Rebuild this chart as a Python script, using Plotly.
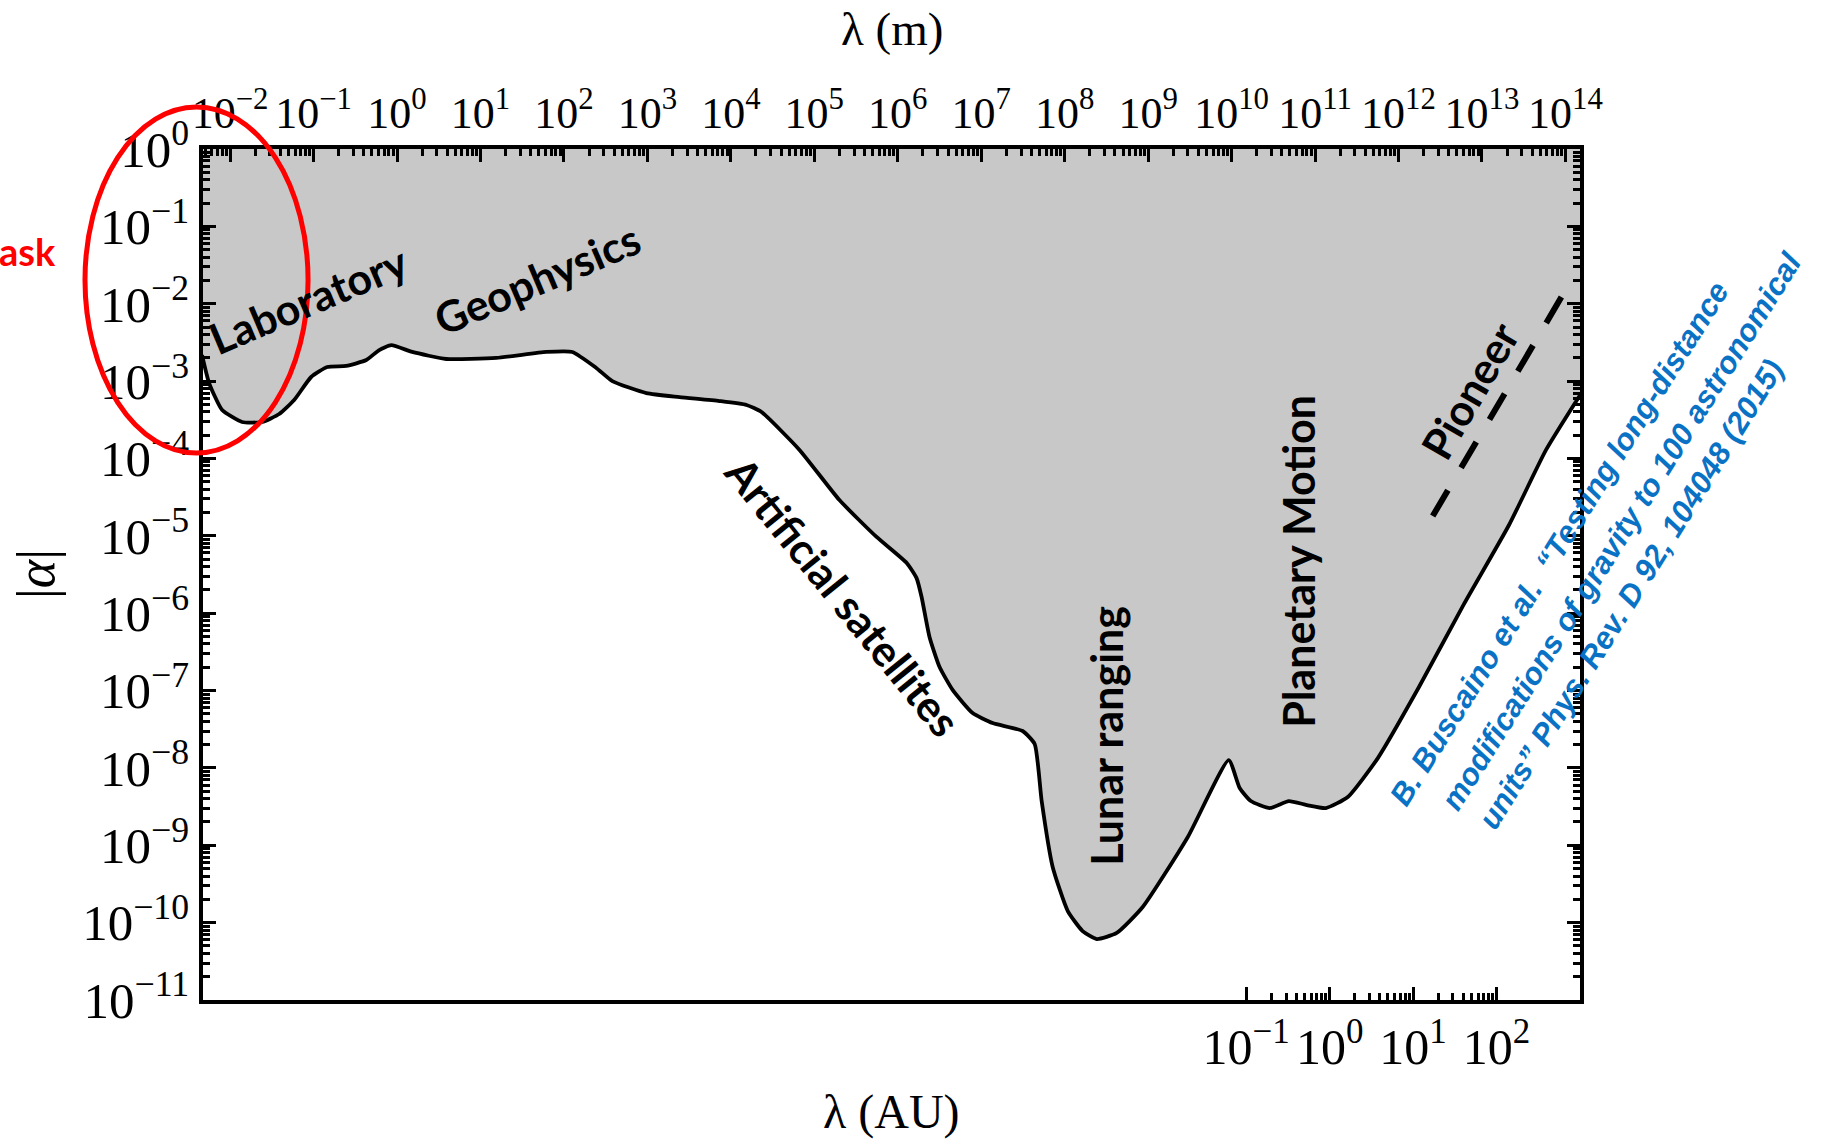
import numpy as np
import plotly.graph_objects as go

# 1 astronomical unit in metres; the bottom axis is the same scale expressed in AU
AU_M = 1.495978707e11
AU_DEC = np.log10(AU_M)

# Upper boundary of the excluded region |alpha|(lambda); lambda in metres
lambda_m = [
    4.61e-3, 5.60e-3, 8.02e-3, 1.39e-2, 2.42e-2, 3.87e-2, 5.85e-2, 9.35e-2,
    0.146, 0.246, 0.428, 0.612, 0.853, 1.52, 3.89, 15.5, 61.5, 126, 244, 380,
    973, 2.42e3, 7.29e3, 1.54e4, 2.33e4, 6.65e4, 2.00e5, 5.57e5, 1.28e6,
    1.68e6, 1.93e6, 2.40e6, 3.17e6, 4.54e6, 7.89e6, 1.37e7, 3.13e7, 4.37e7,
    5.30e7, 7.18e7, 1.09e8, 1.64e8, 2.42e8, 4.21e8, 8.61e8, 2.99e9, 9.25e9,
    1.25e10, 1.70e10, 2.87e10, 4.85e10, 7.98e10, 1.35e11, 2.47e11, 5.66e11,
    1.76e12, 6.08e12, 2.11e13, 5.86e13, 1.50e14,
]
alpha_limit = [
    2.17e-3, 9.44e-4, 4.23e-4, 2.96e-4, 2.96e-4, 3.75e-4, 5.69e-4, 1.13e-3,
    1.52e-3, 1.57e-3, 1.87e-3, 2.52e-3, 2.92e-3, 2.38e-3, 1.93e-3, 1.99e-3,
    2.38e-3, 2.38e-3, 1.48e-3, 1.00e-3, 7.01e-4, 6.22e-4, 5.52e-4, 4.91e-4,
    3.98e-4, 1.29e-4, 2.90e-5, 9.66e-6, 4.45e-6, 2.84e-6, 1.62e-6, 4.92e-7,
    2.01e-7, 1.02e-7, 5.12e-8, 3.80e-8, 3.00e-8, 2.04e-8, 3.73e-9, 5.24e-10,
    1.41e-10, 7.78e-11, 6.14e-11, 7.35e-11, 1.59e-10, 1.28e-9, 1.26e-8,
    5.50e-9, 3.73e-9, 3.03e-9, 3.73e-9, 3.31e-9, 3.03e-9, 4.21e-9, 1.34e-8,
    1.11e-7, 1.31e-6, 1.38e-5, 1.29e-4, 6.61e-4,
]
alpha_top = [1.0] * len(lambda_m)
lambda_au = [v / AU_M for v in lambda_m]

# Pioneer anomaly band (dashed)
pioneer_lambda_m = [2.57e12, 9.12e13]
pioneer_alpha = [1.80e-5, 1.26e-2]

# Tick decades
top_exponents = list(range(-2, 15))
au_exponents = [-1, 0, 1, 2]
alpha_exponents = list(range(0, -12, -1))

# Region labels: text, lambda (m), |alpha|, angle
region_labels = [
    ("Laboratory", 8.61e-2, 1.15e-2, -23),
    ("Geophysics", 48.0, 2.09e-2, -23),
    ("Artificial satellites", 2.18e5, 1.67e-6, 51),
    ("Lunar ranging", 3.10e8, 2.58e-8, -90),
    ("Planetary Motion", 6.22e10, 4.72e-6, -90),
    ("Pioneer", 7.18e12, 7.45e-4, -60),
]

citation_lines = [
    "B. Buscaino et al.  \u201cTesting long-distance",
    "modifications of gravity to 100 astronomical",
    "units\u201d Phys. Rev. D 92, 104048 (2015)",
]
# centre of each citation line, in paper fractions
citation_pos = [(0.9850, 0.5366), (1.0298, 0.5511), (1.0370, 0.4764)]


def pow10(k):
    exp = ("\u2212" + str(-k)) if k < 0 else str(k)
    return "10<sup>" + exp + "</sup>"


def minor_vals(k_lo, k_hi):
    return [m * 10.0 ** k for k in range(k_lo, k_hi) for m in range(2, 10)]


X_RANGE_AU = [-13.5, 3.0]
X_RANGE_M = [X_RANGE_AU[0] + AU_DEC, X_RANGE_AU[1] + AU_DEC]

SERIF = "Liberation Serif"
SANS = "Lato"

fig = go.Figure()

# Invisible copy on the AU axis so that the bottom axis is drawn
fig.add_trace(go.Scatter(
    x=lambda_au, y=alpha_limit, xaxis="x", yaxis="y", mode="lines",
    line=dict(width=0, color="rgba(0,0,0,0)"), hoverinfo="skip",
))
# Top edge of the shaded region, then the boundary filled up to it
fig.add_trace(go.Scatter(
    x=lambda_m, y=alpha_top, xaxis="x2", yaxis="y", mode="lines",
    line=dict(width=0, color="rgba(0,0,0,0)"), hoverinfo="skip",
))
fig.add_trace(go.Scatter(
    x=lambda_m, y=alpha_limit, xaxis="x2", yaxis="y", mode="lines",
    fill="tonexty", fillcolor="#c8c8c8",
    line=dict(color="black", width=3.8, shape="spline", smoothing=0.5),
    hoverinfo="skip",
))
fig.add_trace(go.Scatter(
    x=pioneer_lambda_m, y=pioneer_alpha, xaxis="x2", yaxis="y", mode="lines",
    line=dict(color="black", width=6, dash="30px,26px"), hoverinfo="skip",
))

axis_common = dict(
    showline=True, linecolor="black", linewidth=3.5,
    ticks="inside", ticklen=13, tickwidth=3, tickcolor="black",
    showgrid=False, zeroline=False, tickmode="array",
)
minor_common = dict(ticks="inside", ticklen=7, tickwidth=2.5,
                    tickcolor="black", showgrid=False, tickmode="array")

fig.update_layout(
    width=1821, height=1139,
    margin=dict(l=203, r=241, t=149, b=139, pad=0),
    paper_bgcolor="white", plot_bgcolor="white",
    showlegend=False,
    xaxis=dict(
        type="log", range=X_RANGE_AU, side="bottom", anchor="y",
        tickvals=[10.0 ** k for k in au_exponents],
        ticktext=[pow10(k) for k in au_exponents],
        tickfont=dict(family=SERIF, size=50, color="black"),
        minor=dict(tickvals=minor_vals(-1, 2), **minor_common),
        **axis_common,
    ),
    xaxis2=dict(
        type="log", range=X_RANGE_M, side="top", anchor="y", overlaying="x",
        tickvals=[10.0 ** k for k in top_exponents],
        ticktext=[pow10(k) for k in top_exponents],
        tickfont=dict(family=SERIF, size=44, color="black"),
        minor=dict(tickvals=minor_vals(-3, 15), **minor_common),
        **axis_common,
    ),
    yaxis=dict(
        type="log", range=[-11, 0], mirror="ticks",
        tickvals=[10.0 ** k for k in alpha_exponents],
        ticktext=[pow10(k) for k in alpha_exponents],
        tickfont=dict(family=SERIF, size=51, color="black"),
        minor=dict(tickvals=minor_vals(-11, 0), **minor_common),
        **axis_common,
    ),
)

annotations = []

# Axis titles
title_font = dict(family=SERIF, color="black")
annotations += [
    dict(x=0.5, y=1.1410, xref="paper", yref="paper", text="\u03bb (m)",
         showarrow=False, font=dict(size=47, **title_font),
         xanchor="center", yanchor="middle"),
    dict(x=0.5, y=-0.1316, xref="paper", yref="paper", text="\u03bb (AU)",
         showarrow=False, font=dict(size=48, **title_font),
         xanchor="center", yanchor="middle"),
    dict(x=-0.1213, y=0.5006, xref="paper", yref="paper",
         text="|<i>\u03b1</i>|", showarrow=False, textangle=-90,
         font=dict(size=54, **title_font), xanchor="center", yanchor="middle"),
]

for text, lam, alp, ang in region_labels:
    annotations.append(dict(
        x=np.log10(lam), y=np.log10(alp), xref="x2", yref="y",
        text="<b>" + text + "</b>", showarrow=False, textangle=ang,
        font=dict(family=SANS, size=43, color="black"),
        xanchor="center", yanchor="middle",
    ))

for line, (px, py) in zip(citation_lines, citation_pos):
    annotations.append(dict(
        x=px, y=py, xref="paper", yref="paper",
        text="<b><i>" + line + "</i></b>", showarrow=False, textangle=-58,
        font=dict(family="Liberation Sans", size=31, color="#0a72c4"),
        xanchor="center", yanchor="middle",
    ))

annotations.append(dict(
    x=-0.1053, y=0.880, xref="paper", yref="paper", text="<b>ask</b>",
    showarrow=False, font=dict(family=SANS, size=38, color="#ff0000"),
    xanchor="right", yanchor="middle",
))

fig.update_layout(annotations=annotations)

# Red highlight around the short-range (laboratory) corner
fig.add_shape(
    type="circle", xref="paper", yref="paper",
    x0=-0.0857, x1=0.0763, y0=0.6428, y1=1.0494,
    line=dict(color="#ff0000", width=5), layer="above",
)

fig.write_html("out.html")
